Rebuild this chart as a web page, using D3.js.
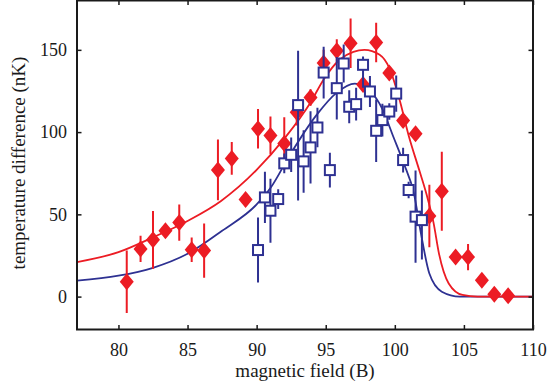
<!DOCTYPE html>
<html>
<head>
<meta charset="utf-8">
<script src="https://cdn.jsdelivr.net/npm/d3@7"></script>
<style>
html,body{margin:0;padding:0;background:#fff;}
svg{display:block;}
</style>
</head>
<body>
<svg id="chart" width="548" height="387"></svg>
<script>
// ---- data ----
const xTicks = [80, 85, 90, 95, 100, 105, 110];
const yTicks = [0, 50, 100, 150];

// red diamonds
const redX   = [80.6, 81.6, 82.5, 83.4, 84.4, 85.3, 86.2, 87.2, 88.2, 89.2, 90.1, 91.0, 92.0, 92.9, 93.9, 94.85, 95.8, 96.8, 97.7, 98.65, 99.6, 100.6, 101.5, 102.5, 103.4, 104.4, 105.3, 106.3, 107.2, 108.2];
const redY   = [9, 29, 34.5, 40, 45, 28.5, 28, 77, 84, 59, 102, 98, 93, 112, 121, 142, 149.5, 154, 129, 154.5, 136, 107, 99, 49, 64, 24, 24, 10, 1.5, 0.5];
const redErr = [19, 8, 17.5, 4, 11, 7.5, 16.5, 18.5, 10, 4, 12, 11.5, 16, 8, 5, 8, 7, 15, 4, 12, 4, 4, 4, 19, 24, 4, 8, 4, 4, 4];

// blue squares (lower / upper error)
const blueX     = [90.1, 90.6, 91.0, 91.56, 92.0, 92.5, 93.0, 93.4, 93.9, 94.4, 95.3, 94.85, 95.8, 96.3, 96.7, 97.2, 97.7, 98.2, 98.65, 99.1, 99.6, 100.1, 100.6, 101.0, 101.5, 101.96];
const blueY     = [28.3, 60.3, 52.2, 59.3, 81, 86.2, 116.4, 82.2, 90.7, 102.8, 76.9, 136.2, 126.7, 141.7, 115.4, 117, 140.9, 124.7, 100.8, 107.3, 112.5, 123.4, 83, 64.8, 48.6, 46.5];
const blueErrLo = [19.8, 15.6, 19.4, 6, 6, 10.5, 58, 19, 22, 12, 10.6, 15.7, 19, 11.5, 10, 10, 14, 9.4, 19, 10, 5, 11, 7.5, 5, 28, 24];
const blueErrHi = [19.8, 15.6, 19.4, 6, 6, 10.5, 33, 19, 22, 12, 10.6, 15.7, 19, 11.5, 10, 10, 5, 9.4, 19, 10, 5, 11, 7.5, 5, 28, 18];

// fitted curves
const redFitX  = [77, 80, 82.5, 85, 87.4, 90, 92, 93.9, 94.85, 96, 97, 97.8, 98.9, 99.6, 100.3, 101, 101.8, 102.3, 102.8, 103.2, 103.9, 104.9, 106, 110];
const redFitY  = [21, 27, 36, 46, 58, 77, 96, 118, 132, 144, 148.8, 150, 147, 139, 121, 98, 76, 62, 45, 26, 8, 1, 0, 0];
const blueFitX = [77, 80, 82.5, 85, 87.5, 90, 91, 92.4, 94.3, 95.8, 97.1, 98.2, 99.1, 99.9, 100.6, 101.4, 101.9, 102.5, 103.4, 104.7, 110];
const blueFitY = [9.7, 12.7, 17.5, 26, 40, 56, 66, 86, 110, 124, 129.5, 125, 114, 97, 82, 62, 38, 14, 3, 0, 0];

const xLabel = "magnetic field (B)";
const yLabel = "temperature difference (nK)";

// ---- drawing ----
const RED = "#ec1c24", BLUE = "#2e3192", INK = "#1a1a1a";
const FONT = '"Liberation Serif"';
const svg = d3.select("#chart");
const L = 77, R = 533, T = 0.5, B = 329.5;
const x = d3.scaleLinear().domain([77, 110]).range([L, R]);
const y = d3.scaleLinear().domain([-20, 180]).range([B, T]);

const plot = svg.append("g");
const clipId = "clip";
svg.append("defs").append("clipPath").attr("id", clipId)
  .append("rect").attr("x", L).attr("y", T).attr("width", R - L).attr("height", B - T);

const line = d3.line().x(d => x(d[0])).y(d => y(d[1])).curve(d3.curveMonotoneX);
const gc = plot.append("g").attr("clip-path", `url(#${clipId})`);
gc.append("path").datum(d3.zip(blueFitX, blueFitY)).attr("d", line)
  .attr("fill", "none").attr("stroke", BLUE).attr("stroke-width", 1.8);
gc.append("path").datum(d3.zip(redFitX, redFitY)).attr("d", line)
  .attr("fill", "none").attr("stroke", RED).attr("stroke-width", 1.8);

// red error bars + diamonds
const red = d3.zip(redX, redY, redErr);
gc.selectAll(".rerr").data(red).join("line")
  .attr("x1", d => x(d[0])).attr("x2", d => x(d[0]))
  .attr("y1", d => y(d[1] - d[2])).attr("y2", d => y(d[1] + d[2]))
  .attr("stroke", RED).attr("stroke-width", 2);
const dw = 7, dh = 8.5;
gc.selectAll(".dia").data(red).join("path")
  .attr("d", d => {
    const cx = x(d[0]), cy = y(d[1]);
    return `M${cx},${cy - dh}L${cx + dw},${cy}L${cx},${cy + dh}L${cx - dw},${cy}Z`;
  })
  .attr("fill", RED);

// blue error bars + squares
const blue = d3.zip(blueX, blueY, blueErrLo, blueErrHi);
gc.selectAll(".berr").data(blue).join("line")
  .attr("x1", d => x(d[0])).attr("x2", d => x(d[0]))
  .attr("y1", d => y(d[1] - d[2])).attr("y2", d => y(d[1] + d[3]))
  .attr("stroke", BLUE).attr("stroke-width", 2);
const s = 10;
gc.selectAll(".sq").data(blue).join("rect")
  .attr("x", d => x(d[0]) - s / 2).attr("y", d => y(d[1]) - s / 2)
  .attr("width", s).attr("height", s)
  .attr("fill", "#fff").attr("stroke", BLUE).attr("stroke-width", 2);

// axes (box with inward ticks)
const tk = 4.5;
const axB = svg.append("g").attr("transform", `translate(0,${B})`)
  .call(d3.axisBottom(x).tickValues(xTicks).tickSizeInner(-tk).tickSizeOuter(0).tickPadding(14));
const axT = svg.append("g").attr("transform", `translate(0,${T})`)
  .call(d3.axisTop(x).tickValues(xTicks).tickSizeInner(-tk).tickSizeOuter(0).tickFormat(""));
const axL = svg.append("g").attr("transform", `translate(${L},0)`)
  .call(d3.axisLeft(y).tickValues(yTicks).tickSizeInner(-tk).tickSizeOuter(0).tickPadding(10));
const axR = svg.append("g").attr("transform", `translate(${R},0)`)
  .call(d3.axisRight(y).tickValues(yTicks).tickSizeInner(-tk).tickSizeOuter(0).tickFormat(""));
[axB, axT, axL, axR].forEach(a => {
  a.attr("font-family", null).attr("font-size", null);
  a.select(".domain").remove();
  a.selectAll(".tick line").attr("stroke", INK).attr("stroke-width", 1.5);
  a.selectAll(".tick text").attr("fill", INK).attr("font-family", FONT).attr("font-size", 18);
});
axB.selectAll(".tick text").attr("dy", "0.71em");
svg.append("rect").attr("x", L).attr("y", T).attr("width", R - L).attr("height", B - T)
  .attr("fill", "none").attr("stroke", INK).attr("stroke-width", 2);

// axis labels
svg.append("text").attr("x", (L + R) / 2).attr("y", 377).attr("text-anchor", "middle")
  .attr("fill", INK).attr("font-family", FONT).attr("font-size", 19).text(xLabel);
svg.append("text").attr("transform", `translate(25,163) rotate(-90)`).attr("text-anchor", "middle")
  .attr("fill", INK).attr("font-family", FONT).attr("font-size", 19).text(yLabel);
</script>
</body>
</html>
